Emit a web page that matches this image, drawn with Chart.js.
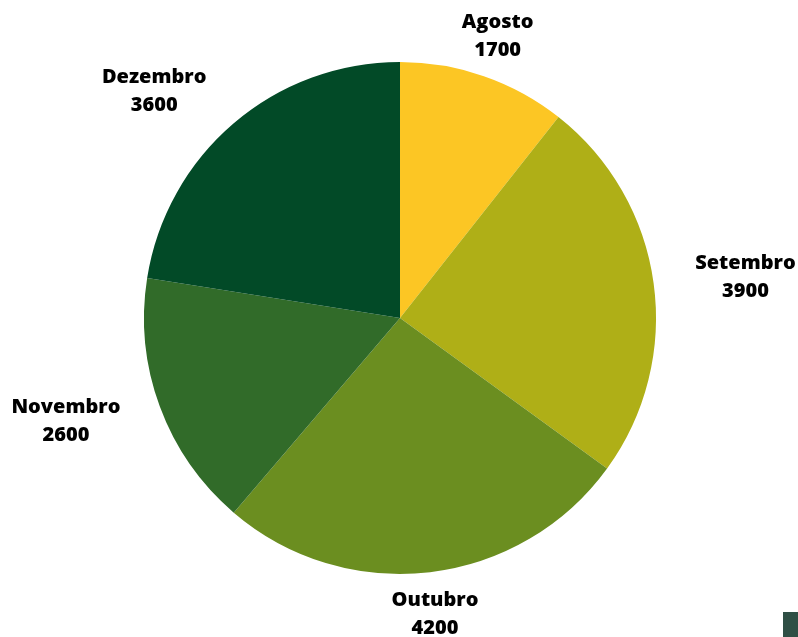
<!DOCTYPE html>
<html lang="pt">
<head>
  <meta charset="UTF-8" />
  <title>Vendas por mês</title>
  <script src="https://cdn.jsdelivr.net/npm/chart.js"></script>
  <style>
    body { margin: 0; background: #fff; }
    #wrap { position: relative; width: 798px; height: 637px; }
    /* pequeno bloco no canto inferior direito */
    #corner { position: absolute; left: 783px; top: 612px; width: 15px; height: 25px; background: #2f4f45; }
  </style>
</head>
<body>
<div id="wrap">
  <canvas id="pie"></canvas>
  <div id="corner"></div>
</div>

<script>
  // dados do gráfico
  const meses = ['Agosto', 'Setembro', 'Outubro', 'Novembro', 'Dezembro'];
  const valores = [1700, 3900, 4200, 2600, 3600];
  const cores = ['#fcc624', '#afaf17', '#6b8e20', '#316b29', '#024a27'];

  // rótulos fora das fatias: nome do mês + valor
  const rotulosExternos = {
    id: 'rotulosExternos',
    afterDatasetsDraw(chart) {
      const ctx = chart.ctx;
      const arcs = chart.getDatasetMeta(0).data;
      ctx.save();
      ctx.font = '800 20px "Open Sans"';
      ctx.fillStyle = '#000';
      ctx.textBaseline = 'middle';
      arcs.forEach((arc, i) => {
        const p = arc.getProps(['x', 'y', 'startAngle', 'endAngle', 'outerRadius'], true);
        const meio = (p.startAngle + p.endAngle) / 2;
        const cx = Math.cos(meio), cy = Math.sin(meio);
        const x = p.x + cx * (p.outerRadius + 42);
        const y = p.y + cy * (p.outerRadius + 42);
        // nas laterais o texto encosta pela borda, em cima/embaixo fica centrado
        if (Math.abs(cx) < 0.5) ctx.textAlign = 'center';
        else ctx.textAlign = cx > 0 ? 'left' : 'right';
        const linhas = [meses[i], String(valores[i])];
        const w = Math.max(...linhas.map(t => ctx.measureText(t).width));
        let tx = x;
        if (ctx.textAlign !== 'center') {
          // as duas linhas ficam centradas entre si
          ctx.textAlign = 'center';
          tx = x + (cx > 0 ? w / 2 : -w / 2);
        }
        ctx.fillText(linhas[0], tx, y - 14);
        ctx.fillText(linhas[1], tx, y + 14);
      });
      ctx.restore();
    }
  };

  new Chart(document.getElementById('pie'), {
    type: 'pie',
    data: {
      labels: meses,
      datasets: [{
        data: valores,
        backgroundColor: cores,
        borderWidth: 0
      }]
    },
    options: {
      responsive: true,
      maintainAspectRatio: false,
      animation: false,
      layout: { padding: { top: 62, bottom: 63, left: 144, right: 142 } },
      plugins: {
        legend: { display: false },
        tooltip: { enabled: false }
      }
    },
    plugins: [rotulosExternos]
  });
</script>
</body>
</html>
